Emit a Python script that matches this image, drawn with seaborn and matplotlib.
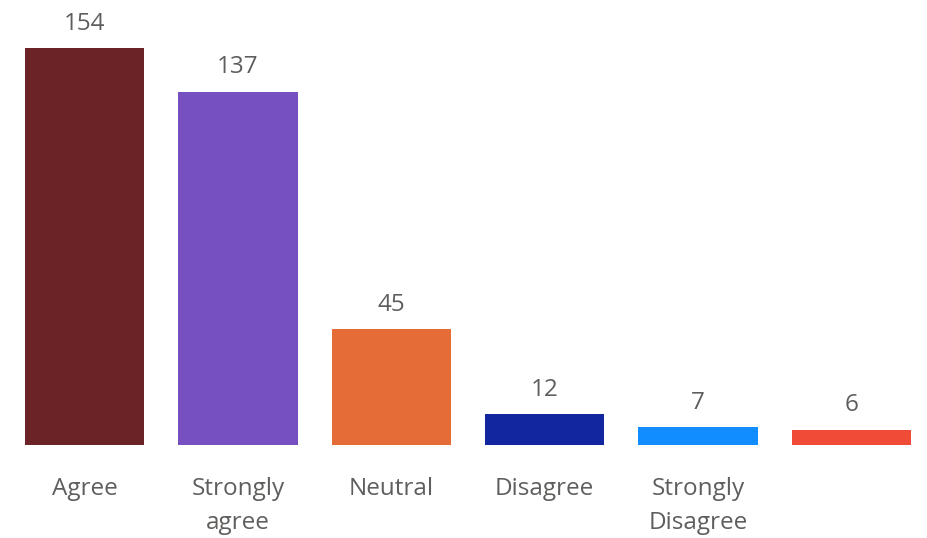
import pandas as pd
import numpy as np
import matplotlib.pyplot as plt
import seaborn as sns

# survey answers
categories = ['Agree', 'Strongly agree', 'Neutral', 'Disagree', 'Strongly Disagree', '(blank)']
tick_labels = ['Agree', 'Strongly\nagree', 'Neutral', 'Disagree', 'Strongly\nDisagree', '']
counts = [154, 137, 45, 12, 7, 6]
colors = ['#6B2328', '#7650C1', '#E66C37', '#1226A0', '#118DFF', '#F04B37']

df = pd.DataFrame({'answer': categories, 'count': counts})

sns.set_style('white')
plt.rcParams['font.family'] = ['Open Sans', 'DejaVu Sans']

fig = plt.figure(figsize=(9.28, 5.38), dpi=100)
ax = fig.add_axes([8 / 928, 93 / 538, 920 / 928, 445 / 538])

sns.barplot(data=df, x='answer', y='count', hue='answer', palette=colors,
            legend=False, width=0.78, saturation=1, linewidth=0, ax=ax)

ax.set_xlim(-0.5, 5.5)
ax.set_ylim(0, 172.6)

for i, v in enumerate(counts):
    ax.annotate(str(v), (i, v), xytext=(0, 17.5), textcoords='offset points',
                ha='center', va='center', fontsize=17.5, color='#605E5C')

ax.set_xticks(range(len(categories)))
ax.set_xticklabels(tick_labels, fontsize=17.5, color='#605E5C', linespacing=1.58)
ax.tick_params(axis='x', length=0, pad=23)
ax.set_yticks([])
ax.set_xlabel('')
ax.set_ylabel('')
sns.despine(ax=ax, left=True, bottom=True)

fig.savefig('out.png', dpi=100)
